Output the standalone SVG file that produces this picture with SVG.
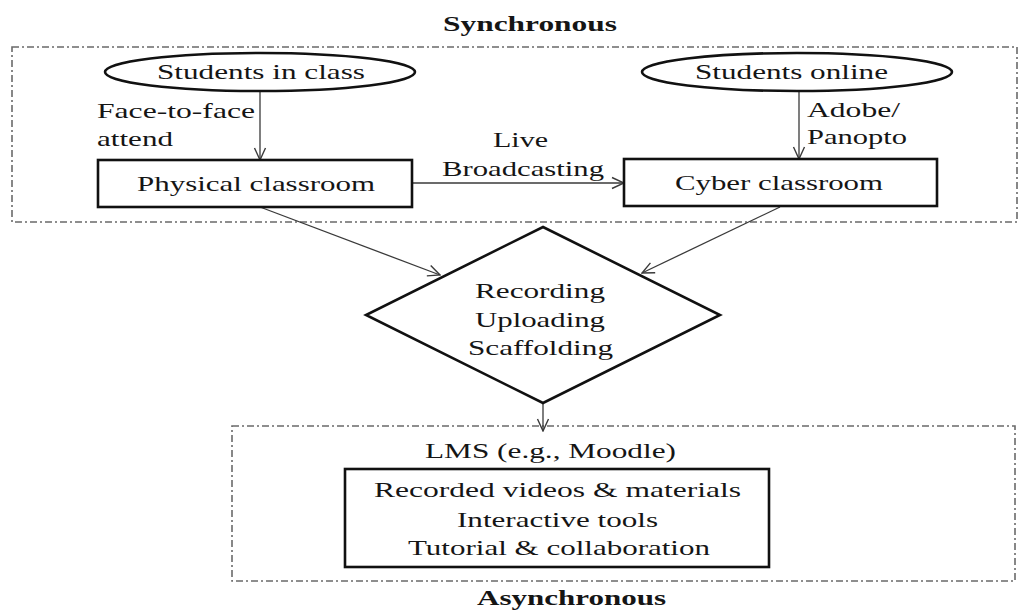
<svg xmlns="http://www.w3.org/2000/svg" width="1021" height="612" viewBox="0 0 1021 612">
  <defs>
    <style>
      text { font-family: "Liberation Serif", "Times New Roman", serif; fill: #151515; }
      .lbl { font-size: 21px; }
      .ttl { font-size: 21px; font-weight: bold; }
      .shape { fill: #ffffff; stroke: #111111; stroke-width: 2.6; }
      .zone { fill: none; stroke: #6a6a6a; stroke-width: 1.6; stroke-dasharray: 7 3 2 3; }
      .link { fill: none; stroke: #3a3a3a; stroke-width: 1.3; marker-end: url(#open-arrow); }
    </style>
    <marker id="open-arrow" markerUnits="userSpaceOnUse" markerWidth="14" markerHeight="14" viewBox="0 0 14 14" refX="13" refY="7" orient="auto">
      <path d="M1,1.5 L13,7 L1,12.5" fill="none" stroke="#3a3a3a" stroke-width="1.4"/>
    </marker>
  </defs>

  <rect width="1021" height="612" fill="#ffffff"/>

  <!-- zone frames and titles -->
  <g id="zone-sync">
    <rect class="zone" x="12" y="47" width="1005" height="175"/>
    <text class="ttl" x="443" y="31" textLength="174" lengthAdjust="spacingAndGlyphs">Synchronous</text>
  </g>
  <g id="zone-async">
    <rect class="zone" x="232" y="426" width="783" height="155"/>
    <text class="ttl" x="477" y="605" textLength="189" lengthAdjust="spacingAndGlyphs">Asynchronous</text>
  </g>

  <!-- connectors -->
  <g id="connectors">
    <line class="link" x1="260" y1="91" x2="260" y2="160"/>
    <line class="link" x1="799" y1="91" x2="799" y2="159"/>
    <line class="link" x1="413" y1="183" x2="624" y2="183"/>
    <line class="link" x1="260" y1="207" x2="440" y2="275"/>
    <line class="link" x1="780" y1="207" x2="642" y2="273"/>
    <line class="link" x1="543" y1="403" x2="543" y2="431"/>
    <text class="lbl" x="97" y="118" textLength="158" lengthAdjust="spacingAndGlyphs">Face-to-face</text>
    <text class="lbl" x="97" y="146" textLength="76" lengthAdjust="spacingAndGlyphs">attend</text>
    <text class="lbl" x="493" y="147" textLength="55" lengthAdjust="spacingAndGlyphs">Live</text>
    <text class="lbl" x="442" y="176" textLength="162" lengthAdjust="spacingAndGlyphs">Broadcasting</text>
    <text class="lbl" x="807" y="117" textLength="93" lengthAdjust="spacingAndGlyphs">Adobe/</text>
    <text class="lbl" x="807" y="144" textLength="100" lengthAdjust="spacingAndGlyphs">Panopto</text>
  </g>

  <!-- nodes -->
  <g id="students-in-class">
    <ellipse class="shape" cx="260" cy="72" rx="155" ry="19"/>
    <text class="lbl" x="157" y="79" textLength="208" lengthAdjust="spacingAndGlyphs">Students in class</text>
  </g>
  <g id="students-online">
    <ellipse class="shape" cx="797" cy="72" rx="155" ry="19"/>
    <text class="lbl" x="695" y="79" textLength="193" lengthAdjust="spacingAndGlyphs">Students online</text>
  </g>
  <g id="physical-classroom">
    <rect class="shape" x="98" y="160" width="314" height="47"/>
    <text class="lbl" x="137" y="191" textLength="238" lengthAdjust="spacingAndGlyphs">Physical classroom</text>
  </g>
  <g id="cyber-classroom">
    <rect class="shape" x="624" y="159" width="313" height="47"/>
    <text class="lbl" x="675" y="190" textLength="208" lengthAdjust="spacingAndGlyphs">Cyber classroom</text>
  </g>
  <g id="processing">
    <polygon class="shape" points="543,227 720,315 543,403 366,315"/>
    <text class="lbl" x="475" y="298" textLength="130" lengthAdjust="spacingAndGlyphs">Recording</text>
    <text class="lbl" x="475" y="327" textLength="130" lengthAdjust="spacingAndGlyphs">Uploading</text>
    <text class="lbl" x="468" y="355" textLength="145" lengthAdjust="spacingAndGlyphs">Scaffolding</text>
  </g>
  <g id="lms">
    <text class="lbl" x="425" y="458" textLength="251" lengthAdjust="spacingAndGlyphs">LMS (e.g., Moodle)</text>
  </g>
  <g id="lms-resources">
    <rect class="shape" x="345" y="469" width="424" height="98"/>
    <text class="lbl" x="374" y="497" textLength="367" lengthAdjust="spacingAndGlyphs">Recorded videos &amp; materials</text>
    <text class="lbl" x="457" y="527" textLength="201" lengthAdjust="spacingAndGlyphs">Interactive tools</text>
    <text class="lbl" x="408" y="555" textLength="302" lengthAdjust="spacingAndGlyphs">Tutorial &amp; collaboration</text>
  </g>
</svg>
